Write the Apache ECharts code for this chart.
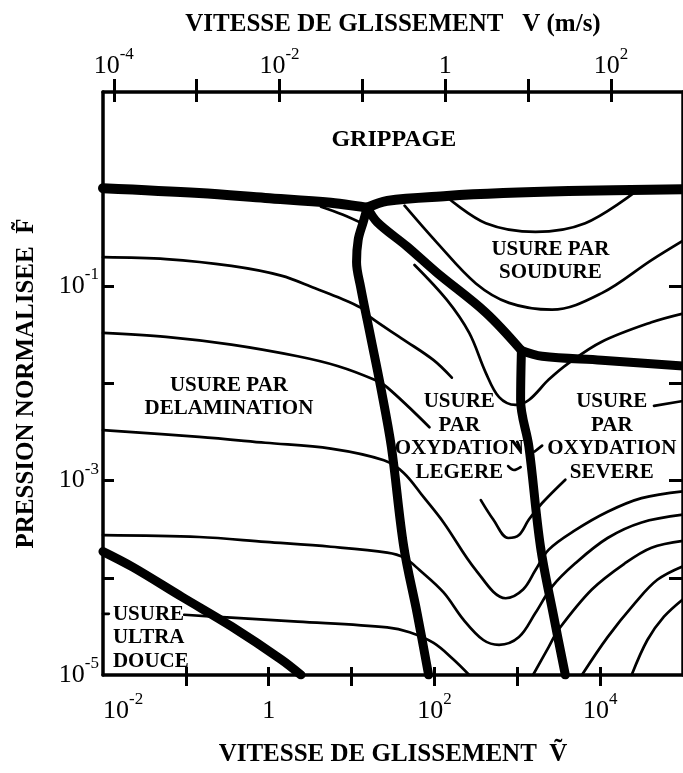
<!DOCTYPE html>
<html><head><meta charset="utf-8">
<script src="https://cdn.jsdelivr.net/npm/echarts@6/dist/echarts.min.js"></script>
<style>html,body{margin:0;padding:0;background:#fff}#c{width:683px;height:773px}</style>
</head><body><div id="c"></div>
<script>
const xTicks = [-1, 0, 1, 2, 3, 4];
const xLabels = [-2, 0, 2, 4];
const yTicks = [-4, -3, -2, -1, 0];
const yLabels = [-5, -3, -1];
const topTicks = [-4, -3, -2, -1, 0, 1, 2];
const topLabels = [-4, -2, 0, 2];
const topRange = [-4.13, 2.87]; // log10 V (m/s) at the plot edges

// thick boundaries
const grippageLeft = [[-2,0.01],[-0.84,-0.04],[-0.04,-0.09],[0.75,-0.14],[1.11,-0.18],[1.19,-0.19]];
const grippageRight = [[1.19,-0.19],[1.43,-0.12],[2.15,-0.07],[2.83,-0.04],[3.62,-0.02],[5,0.0]];
const delamBoundary = [[1.19,-0.19],[1.14,-0.34],[1.08,-0.52],[1.06,-0.75],[1.11,-1.01],[1.23,-1.52],[1.35,-2.03],[1.48,-2.65],[1.63,-3.68],[1.79,-4.36],[1.93,-5]];
const soudureBoundary = [[1.19,-0.19],[1.31,-0.34],[1.67,-0.59],[2.03,-0.86],[2.62,-1.27],[3.05,-1.66]];
const soudureBoundaryRight = [[3.05,-1.66],[3.30,-1.72],[4.02,-1.76],[5,-1.82]];
const severeBoundary = [[3.05,-1.66],[3.04,-2.17],[3.14,-2.65],[3.28,-3.68],[3.44,-4.40],[3.58,-5]];
const ultraBoundary = [[-2,-3.73],[-1.64,-3.89],[-1.04,-4.20],[-0.45,-4.50],[0.15,-4.84],[0.39,-5]];

// thin contours
const contour1 = [[-2,-0.70],[-1.24,-0.72],[-0.45,-0.79],[0.15,-0.89],[0.56,-1.02],[0.83,-1.11],[1.11,-1.22],[1.23,-1.32],[1.63,-1.55],[1.99,-1.76],[2.21,-1.94]];
const contour2 = [[-2,-1.48],[-1.24,-1.52],[-0.45,-1.60],[0.35,-1.72],[0.83,-1.82],[1.27,-1.96],[1.43,-2.04],[1.94,-2.45]];
const contour3 = [[-2,-2.48],[-0.84,-2.55],[-0.04,-2.61],[0.75,-2.67],[1.39,-2.79],[1.63,-2.92],[1.87,-3.17],[2.11,-3.43],[2.50,-3.92],[2.86,-4.21],[3.07,-4.12],[3.22,-3.92],[3.38,-3.71],[3.70,-3.51],[4.09,-3.32],[4.50,-3.18],[5,-3.11]];
const contourHook = [[2.56,-3.20],[2.71,-3.40],[2.89,-3.59],[3.02,-3.56],[3.14,-3.40],[3.30,-3.23],[3.58,-2.99]];
const contour4 = [[-2,-3.56],[-0.84,-3.58],[-0.04,-3.63],[0.75,-3.68],[1.43,-3.74],[1.63,-3.79],[1.82,-3.92],[2.11,-4.15],[2.35,-4.43],[2.59,-4.64],[2.78,-4.69],[3.02,-4.61],[3.22,-4.36],[3.42,-4.09],[3.70,-3.85],[4.09,-3.59],[4.50,-3.43],[5,-3.35]];
const contour5 = [[-1.02,-4.38],[-0.45,-4.41],[0.35,-4.45],[1.43,-4.51],[1.70,-4.56],[1.99,-4.67],[2.23,-4.84],[2.42,-5]];
const contour6 = [[3.19,-5],[3.38,-4.71],[3.50,-4.53],[3.90,-4.12],[4.30,-3.85],[4.62,-3.69],[5,-3.62]];
const contour7 = [[3.78,-5],[4.09,-4.61],[4.42,-4.26],[4.69,-4.02],[5,-3.88]];
const contour8 = [[4.38,-5],[4.57,-4.64],[4.77,-4.40],[5,-4.22]];
const contourC = [[1.76,-0.78],[2.15,-1.14],[2.42,-1.48],[2.62,-1.89],[2.78,-2.14],[2.98,-2.22],[3.14,-2.17],[3.38,-1.96],[3.62,-1.79],[4.02,-1.57],[4.62,-1.37],[5,-1.28]];
const soudure1 = [[1.64,-0.17],[2.03,-0.55],[2.50,-0.97],[2.90,-1.17],[3.42,-1.24],[4.02,-1.07],[4.62,-0.73],[5,-0.53]];
const soudure2 = [[2.15,-0.08],[2.62,-0.35],[3.22,-0.44],[3.82,-0.35],[4.42,-0.03]];
const junctionArc = [[0.63,-0.18],[0.89,-0.26],[1.15,-0.36]];
const fragments = [
  [[-2,-4.37],[-1.93,-4.37]],
  [[2.89,-2.85],[2.96,-2.89],[3.04,-2.86]],
  [[3.00,-2.60],[3.04,-2.68]],
  [[3.21,-2.70],[3.30,-2.64]],
  [[4.65,-2.23],[5,-2.18]]
];

const regionLabels = [
  [1.51, 0.51, 'GRIPPAGE', 'center'],
  [3.40, -0.74, 'USURE PAR\nSOUDURE', 'center'],
  [-0.48, -2.14, 'USURE PAR\nDELAMINATION', 'center'],
  [2.30, -2.55, 'USURE\nPAR\nOXYDATION\nLEGERE', 'center'],
  [4.14, -2.55, 'USURE\nPAR\nOXYDATION\nSEVERE', 'center'],
  [-1.88, -4.62, 'USURE\nULTRA\nDOUCE', 'left']
];

const SERIF = 'Liberation Serif';
const rich = {
  b: {fontFamily: SERIF, fontSize: 26, lineHeight: 40, color: '#000'},
  s: {fontFamily: SERIF, fontSize: 17, lineHeight: 20, verticalAlign: 'top', color: '#000'}
};
function expLabel(v) {
  const n = Math.round(v);
  return n === 0 ? '{b|1}' : '{b|10}{s|' + n + '}';
}
const titleStyle = {fontFamily: SERIF, fontWeight: 'bold', fontSize: 25, lineHeight: 25, color: '#000'};
const axisLineStyle = {color: '#000', width: 3.5};
const tickStyle = {color: '#000', width: 3};

function lineSeries(data, width, z) {
  return {
    type: 'line', data: data, showSymbol: false, smooth: 0.35, silent: true,
    xAxisIndex: 0, yAxisIndex: 0, z: z, animation: false,
    lineStyle: {color: '#000', width: width, cap: 'round', join: 'round'}
  };
}

const thick = [grippageLeft, grippageRight, delamBoundary, soudureBoundary, soudureBoundaryRight, severeBoundary, ultraBoundary];
const thin = [contour1, contour2, contour3, contourHook, contour4, contour5, contour6, contour7, contour8, contourC, soudure1, soudure2, junctionArc].concat(fragments);

const series = [];
thin.forEach(d => series.push(lineSeries(d, 2.7, 2)));
thick.forEach((d, i) => series.push(lineSeries(d, i < 2 ? 10 : 9, 3)));
const labelBase = {
  show: true, position: 'inside', formatter: p => p.name,
  fontFamily: SERIF, fontWeight: 'bold', fontSize: 21, lineHeight: 23.5,
  color: '#000', opacity: 1, textBorderWidth: 0, textShadowBlur: 0
};
series.push({
  type: 'scatter', xAxisIndex: 0, yAxisIndex: 0, symbol: 'circle', symbolSize: 0.5, silent: true, z: 5,
  itemStyle: {color: '#fff', opacity: 1},
  data: regionLabels.map(r => ({
    value: [r[0], r[1]],
    name: r[2],
    label: Object.assign({}, labelBase, {align: r[3], fontSize: r[2] === 'GRIPPAGE' ? 24 : 21})
  })),
  label: labelBase
});

const chart = echarts.init(document.getElementById('c'));
chart.setOption({
  animation: false,
  backgroundColor: '#fff',
  grid: {left: 103, right: -6, top: 92, bottom: 98, show: false},
  xAxis: [
    {
      type: 'value', position: 'bottom', min: -2, max: 5,
      axisLine: {show: true, onZero: false, lineStyle: axisLineStyle},
      axisTick: {show: true, inside: false, length: 11, customValues: xTicks, lineStyle: tickStyle},
      axisLabel: {customValues: xLabels, formatter: expLabel, margin: 16, rich: rich, alignMinLabel: 'left'},
      splitLine: {show: false},
      name: 'VITESSE DE GLISSEMENT  \u1E7C', nameLocation: 'middle', nameGap: 67, nameTextStyle: titleStyle
    },
    {
      type: 'value', position: 'bottom', min: -2, max: 5,
      axisLine: {show: false, onZero: false},
      axisTick: {show: true, inside: true, length: 8, customValues: xTicks, lineStyle: tickStyle},
      axisLabel: {show: false}, splitLine: {show: false}
    },
    {
      type: 'value', position: 'top', min: topRange[0], max: topRange[1],
      axisLine: {show: true, onZero: false, lineStyle: axisLineStyle},
      axisTick: {show: true, inside: false, length: 13, customValues: topTicks, lineStyle: tickStyle},
      axisLabel: {customValues: topLabels, formatter: expLabel, margin: 6, rich: rich},
      splitLine: {show: false},
      name: 'VITESSE DE GLISSEMENT   V (m/s)', nameLocation: 'middle', nameGap: 55, nameTextStyle: titleStyle
    },
    {
      type: 'value', position: 'top', min: topRange[0], max: topRange[1],
      axisLine: {show: false, onZero: false},
      axisTick: {show: true, inside: true, length: 10, customValues: topTicks, lineStyle: tickStyle},
      axisLabel: {show: false}, splitLine: {show: false}
    }
  ],
  yAxis: [
    {
      type: 'value', position: 'left', min: -5, max: 1,
      axisLine: {show: true, onZero: false, lineStyle: axisLineStyle},
      axisTick: {show: true, inside: true, length: 11, customValues: yTicks, lineStyle: tickStyle},
      axisLabel: {customValues: yLabels, formatter: expLabel, margin: 4, rich: rich},
      splitLine: {show: false},
      name: 'PRESSION NORMALISEE  F\u0303', nameLocation: 'middle', nameGap: 64, nameTextStyle: titleStyle
    },
    {
      type: 'value', position: 'right', min: -5, max: 1,
      axisLine: {show: true, onZero: false, lineStyle: axisLineStyle},
      axisTick: {show: true, inside: true, length: 14, customValues: yTicks, lineStyle: tickStyle},
      axisLabel: {show: false}, splitLine: {show: false}
    }
  ],
  series: series
});
</script></body></html>
